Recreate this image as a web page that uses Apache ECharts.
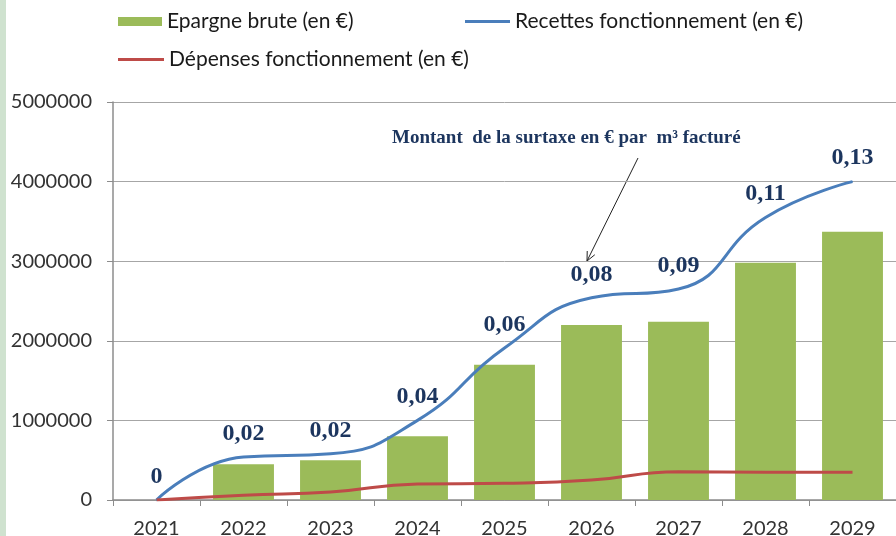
<!DOCTYPE html>
<html>
<head>
<meta charset="utf-8">
<script src="https://cdn.jsdelivr.net/npm/echarts@6/dist/echarts.min.js"></script>
<style>
    html, body {margin: 0; padding: 0; background: #fff;}
    #chart {width: 896px; height: 536px;}
</style>
</head>
<body>
<div id="chart"></div>
<script>
    // données
    var annees = ['2021', '2022', '2023', '2024', '2025', '2026', '2027', '2028', '2029'];
    var epargneBrute = [0, 450000, 500000, 800000, 1700000, 2200000, 2240000, 2980000, 3370000];
    var recettes = [0, 540000, 580000, 1000000, 1910000, 2540000, 2650000, 3550000, 4000000];
    var depenses = [0, 60000, 100000, 200000, 210000, 250000, 355000, 350000, 350000];
    var surtaxe = ['0', '0,02', '0,02', '0,04', '0,06', '0,08', '0,09', '0,11', '0,13'];
    var yTicks = [0, 1000000, 2000000, 3000000, 4000000, 5000000];

    var chart = echarts.init(document.getElementById('chart'));

    // petite flèche de l'annotation
    function fleche(x1, y1, x2, y2) {
        var dx = x1 - x2, dy = y1 - y2, l = Math.sqrt(dx * dx + dy * dy);
        dx = dx / l; dy = dy / l;
        var a = 25 * Math.PI / 180, c = Math.cos(a), s = Math.sin(a), h = 10;
        return [
            {type: 'line', shape: {x1: x1, y1: y1, x2: x2, y2: y2}, style: {stroke: '#222', lineWidth: 1}},
            {type: 'polyline', shape: {points: [
                [x2 + h * (dx * c - dy * s), y2 + h * (dx * s + dy * c)],
                [x2, y2],
                [x2 + h * (dx * c + dy * s), y2 + h * (-dx * s + dy * c)]
            ]}, style: {stroke: '#222', lineWidth: 1, fill: null}}
        ];
    }

    var police = 'Lato, "Liberation Sans", sans-serif';
    var legendText = {fontFamily: police, fontSize: 21, color: '#1a1a1a'};

    var option = {
        animation: false,
        backgroundColor: '#fff',
        legend: [{
            left: 118, top: 11, itemWidth: 44, itemHeight: 9, itemGap: 0, padding: 0,
            textStyle: legendText,
            data: [{name: 'Epargne brute (en €)', icon: 'rect'}]
        }, {
            left: 465, top: 11, itemWidth: 45, itemHeight: 3, padding: 0,
            textStyle: legendText,
            data: [{name: 'Recettes fonctionnement (en €)', icon: 'rect'}]
        }, {
            left: 118, top: 49, itemWidth: 46, itemHeight: 3, padding: 0,
            textStyle: legendText,
            data: [{name: 'Dépenses fonctionnement (en €)', icon: 'rect'}]
        }],
        grid: {left: 113, top: 102, right: 0, bottom: 36, outerBoundsMode: 'none', containLabel: false},
        xAxis: {
            type: 'category',
            data: annees,
            axisLine: {lineStyle: {color: '#8c8c8c', width: 1.5}},
            axisTick: {show: true, length: 6, lineStyle: {color: '#8c8c8c'}},
            axisLabel: {color: '#333', fontSize: 20, fontFamily: police, margin: 19}
        },
        yAxis: {
            type: 'value',
            min: yTicks[0], max: yTicks[yTicks.length - 1], interval: 1000000,
            axisLine: {show: true, lineStyle: {color: '#8c8c8c', width: 1.5}},
            axisTick: {show: true, length: 6, lineStyle: {color: '#8c8c8c'}},
            axisLabel: {
                color: '#333', fontSize: 20, fontFamily: police, margin: 21,
                formatter: function (v) { return String(v); }
            },
            splitLine: {lineStyle: {color: '#a6a6a6', width: 1}}
        },
        series: [{
            name: 'Epargne brute (en €)',
            type: 'bar',
            data: epargneBrute,
            barCategoryGap: '30%',
            itemStyle: {color: '#9bbb59'}
        }, {
            name: 'Recettes fonctionnement (en €)',
            type: 'line',
            data: recettes,
            smooth: true,
            showSymbol: true,
            symbol: 'circle',
            symbolSize: 1,
            lineStyle: {color: '#4a7ebb', width: 3},
            itemStyle: {color: '#4a7ebb'},
            label: {
                show: true, position: 'top', distance: 11,
                formatter: function (p) { return surtaxe[p.dataIndex]; },
                color: '#1c355e', fontSize: 24, fontWeight: 'bold',
                fontFamily: '"Liberation Serif", serif'
            },
            z: 3
        }, {
            name: 'Dépenses fonctionnement (en €)',
            type: 'line',
            data: depenses,
            smooth: true,
            showSymbol: false,
            symbol: 'none',
            lineStyle: {color: '#be4b48', width: 3},
            itemStyle: {color: '#be4b48'},
            z: 3
        }],
        graphic: [
            {type: 'rect', shape: {x: 0, y: 0, width: 6, height: 536}, style: {fill: '#cfe2cf'}},
            {type: 'text', left: 392, top: 129, style: {
                text: 'Montant  de la surtaxe en € par  m³ facturé',
                fill: '#1c355e', font: 'bold 19px "Liberation Serif", serif'
            }}
        ].concat(fleche(638, 158, 587, 261))
    };

    chart.setOption(option);
</script>
</body>
</html>
